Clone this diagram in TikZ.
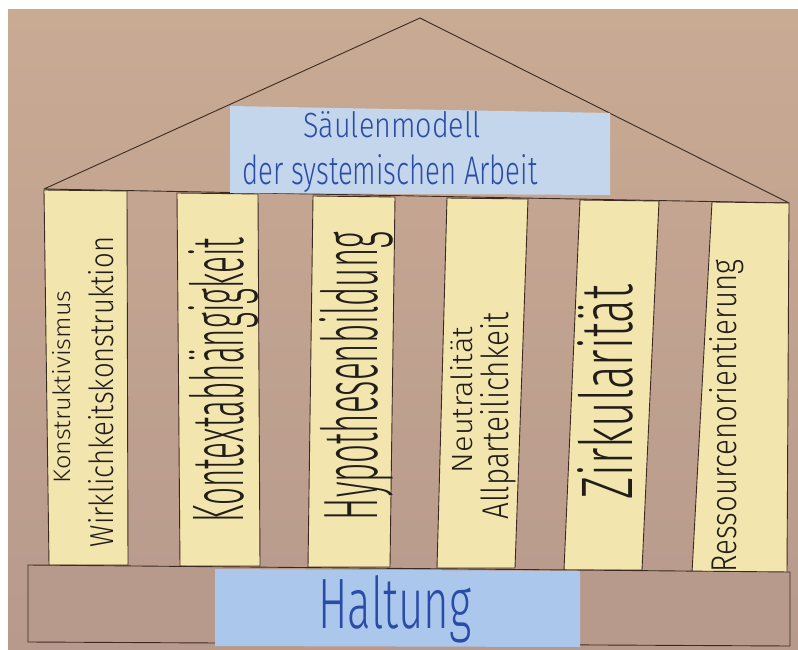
\documentclass[tikz,border=0pt]{standalone}
\usepackage{fontspec}
\setmainfont{Fira Sans Light}
\usepackage{graphicx}
\definecolor{papertop}{HTML}{C9AA93}
\definecolor{paperbot}{HTML}{B89A8D}
\definecolor{pillar}{HTML}{F2E5AE}
\definecolor{titlecard}{HTML}{C4D6EC}
\definecolor{basecard}{HTML}{ABC7EB}
\definecolor{inkblue}{HTML}{2B4BA8}
\definecolor{inkblack}{HTML}{231D1A}
\definecolor{pencil}{HTML}{3A2A22}
\newcommand{\fitbox}[3]{\resizebox{#1pt}{#2pt}{#3}}
\tikzset{
  outline/.style={draw=pencil, line width=0.9pt, line join=round},
  pillarbox/.style={outline, fill=pillar},
  pillartext/.style={rotate=90, anchor=base, inner sep=0pt, text=inkblack},
  bluetext/.style={anchor=base, inner sep=0pt, text=inkblue},
}
\begin{document}
\begin{tikzpicture}[x=1pt,y=-1pt]
\useasboundingbox (0,0) rectangle (798,650);
\fill[white] (0,0) rectangle (798,650);
% paper
\shade[top color=papertop, bottom color=paperbot] (8,10) rectangle (798,650);
% roof
\coordinate (apex) at (420,18);
\coordinate (roofL) at (44,189);
\coordinate (roofR) at (789,203);
\draw[outline] (roofL) -- (apex) -- (roofR) -- cycle;
% title card
\path[fill=titlecard] (230,106) -- (610,113) -- (610,195) -- (230,193) -- cycle;
\node[bluetext] (t1) at (392,138) {\fitbox{177}{26}{Säulenmodell}};
\node[bluetext] (t2) at (390,185) {\fitbox{295}{30}{der systemischen Arbeit}};
% pillars
\draw[pillarbox] (44,190) -- (127,191) -- (128,565) -- (49,565) -- cycle;
\draw[pillarbox] (177,193) -- (258,194) -- (260,566) -- (180,566) -- cycle;
\draw[pillarbox] (313,196) -- (395,197) -- (390,567) -- (308,567) -- cycle;
\draw[pillarbox] (447,198) -- (528,199) -- (515,568) -- (437,568) -- cycle;
\draw[pillarbox] (580,200) -- (659,201) -- (642,570) -- (564,570) -- cycle;
\draw[pillarbox] (712,202) -- (789,203) -- (787,573) -- (692,573) -- cycle;
% pillar texts
\node[pillartext] (k1) at (70,387) {\fitbox{193}{18}{Konstruktivismus}};
\node[pillartext] (k2) at (113,392) {\fitbox{310}{25}{Wirklichkeitskonstruktion}};
\node[pillartext] (k3) at (243,380) {\fitbox{285}{55}{Kontextabhängigkeit}};
\node[pillartext] (k4) at (377,376) {\fitbox{288}{58}{Hypothesenbildung}};
\node[pillartext] (k5) at (472,400) {\fitbox{146}{22}{Neutralität}};
\node[pillartext] (k6) at (508,416) {\fitbox{207}{28}{Allparteilichkeit}};
\node[pillartext] (k7) at (632,392) {\fitbox{215}{55}{Zirkularität}};
\node[pillartext] (k8) at (736,416) {\fitbox{312}{27}{Ressourcenorientierung}};
% base
\draw[outline, fill=paperbot] (28,565) -- (790,572) -- (790,646) -- (28,642) -- cycle;
\path[fill=basecard] (215,569) -- (580,571) -- (580,647) -- (215,646) -- cycle;
\node[bluetext] (h) at (395,628) {\fitbox{153}{53}{Haltung}};
\end{tikzpicture}
\end{document}
